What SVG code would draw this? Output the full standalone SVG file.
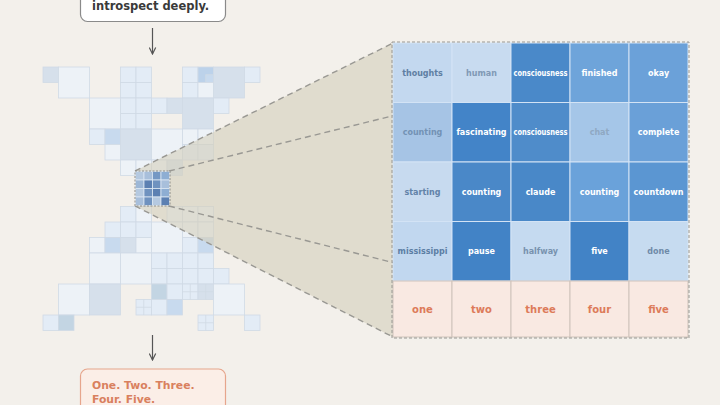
<svg xmlns="http://www.w3.org/2000/svg" width="720" height="405" viewBox="0 0 720 405">
<defs>
<style>
.p0{fill:#edf2f7;stroke:#d0dae5;stroke-width:0.8}
.p1{fill:#e3ecf6;stroke:#d0dae5;stroke-width:0.8}
.p2{fill:#d6e0eb;stroke:#d0dae5;stroke-width:0.8}
.p3{fill:#c8daee;stroke:#d0dae5;stroke-width:0.8}
.p4{fill:#bcd2ea;stroke:#d0dae5;stroke-width:0.8}
.pt{fill:#c3d5e3;stroke:#d0dae5;stroke-width:0.8}
.sub{stroke:#d0dae5;stroke-width:0.8;fill:none}
.dash{stroke:#999893;stroke-width:1.4;stroke-dasharray:6 4;fill:none}
.cell{stroke:#d3e3f5;stroke-width:1}
.lbl{font-family:"DejaVu Sans",Verdana,sans-serif;font-weight:bold;font-size:8px;text-anchor:middle;dominant-baseline:central}
.w{fill:#ffffff}
.num{fill:#dd7b5a;font-size:10px}
.peach{fill:#f9e9e2;stroke:#cfc3bb;stroke-width:1}
.mini{stroke:#dbe6f2;stroke-width:0.8}
.arrow{stroke:#555555;stroke-width:1.2;fill:none}
</style>
<marker id="ah" viewBox="0 0 10 10" refX="9" refY="5" markerWidth="8" markerHeight="8" orient="auto" markerUnits="userSpaceOnUse">
<path d="M1,1 L9,5 L1,9" fill="none" stroke="#555555" stroke-width="1.5"/>
</marker>
</defs>
<rect x="0" y="0" width="720" height="405" fill="#f3f0eb"/>

<g id="pattern">
<rect class="p2" x="43" y="67" width="15.5" height="15.5"/>
<rect class="p0" x="58.5" y="67" width="31" height="31"/>
<rect class="p1" x="120.5" y="67" width="15.5" height="15.5"/>
<rect class="p1" x="136" y="67" width="15.5" height="15.5"/>
<rect class="p1" x="120.5" y="82.5" width="15.5" height="15.5"/>
<rect class="p1" x="136" y="82.5" width="15.5" height="15.5"/>
<rect class="p1" x="120.5" y="98" width="15.5" height="15.5"/>
<rect class="p1" x="136" y="98" width="15.5" height="15.5"/>
<rect class="p1" x="120.5" y="113.5" width="15.5" height="15.5"/>
<rect class="p1" x="136" y="113.5" width="15.5" height="15.5"/>
<rect class="p1" x="182.5" y="67" width="15.5" height="15.5"/>
<rect class="p4" x="198" y="67" width="15.5" height="15.5"/>
<rect class="p3" x="205.75" y="74.75" width="7.75" height="7.75"/>
<rect class="p2" x="213.5" y="67" width="31" height="31"/>
<rect class="p1" x="244.5" y="67" width="15.5" height="15.5"/>
<rect class="p1" x="182.5" y="82.5" width="15.5" height="15.5"/>
<rect class="p0" x="198" y="82.5" width="15.5" height="15.5"/>
<rect class="p0" x="89.5" y="98" width="31" height="31"/>
<rect class="p1" x="151.5" y="98" width="15.5" height="15.5"/>
<rect class="p2" x="167" y="98" width="15.5" height="15.5"/>
<rect class="p2" x="182.5" y="98" width="31" height="31"/>
<rect class="p1" x="213.5" y="98" width="15.5" height="15.5"/>
<rect class="p1" x="89.5" y="129" width="15.5" height="15.5"/>
<rect class="p3" x="105" y="129" width="15.5" height="15.5"/>
<rect class="p2" x="120.5" y="129" width="31" height="31"/>
<rect class="p0" x="151.5" y="129" width="31" height="31"/>
<rect class="p0" x="182.5" y="129" width="15.5" height="15.5"/>
<rect class="p0" x="198" y="129" width="15.5" height="15.5"/>
<rect class="p0" x="105" y="144.5" width="15.5" height="15.5"/>
<rect class="p1" x="182.5" y="144.5" width="15.5" height="15.5"/>
<rect class="p1" x="198" y="144.5" width="15.5" height="15.5"/>
<rect class="p0" x="120.5" y="160" width="15.5" height="15.5"/>
<rect class="p0" x="136" y="160" width="15.5" height="15.5"/>
<rect class="p0" x="151.5" y="160" width="15.5" height="15.5"/>
<rect class="p2" x="167" y="160" width="15.5" height="15.5"/>

<rect class="p1" x="120.5" y="206.5" width="15.5" height="15.5"/>
<rect class="p0" x="136" y="206.5" width="15.5" height="15.5"/>
<rect class="p0" x="167" y="206.5" width="15.5" height="15.5"/>
<rect class="p0" x="182.5" y="206.5" width="15.5" height="15.5"/>
<rect class="p0" x="198" y="206.5" width="15.5" height="15.5"/>
<rect class="p1" x="105" y="222" width="15.5" height="15.5"/>
<rect class="p1" x="120.5" y="222" width="15.5" height="15.5"/>
<rect class="p1" x="136" y="222" width="15.5" height="15.5"/>
<rect class="p0" x="151.5" y="222" width="31" height="31"/>
<rect class="p0" x="182.5" y="222" width="15.5" height="15.5"/>
<rect class="p0" x="198" y="222" width="15.5" height="15.5"/>
<rect class="p0" x="89.5" y="237.5" width="15.5" height="15.5"/>
<rect class="p3" x="105" y="237.5" width="15.5" height="15.5"/>
<rect class="p2" x="120.5" y="237.5" width="15.5" height="15.5"/>
<rect class="p0" x="136" y="237.5" width="15.5" height="15.5"/>
<rect class="p1" x="182.5" y="237.5" width="15.5" height="15.5"/>
<rect class="p3" x="198" y="237.5" width="15.5" height="15.5"/>
<rect class="p0" x="89.5" y="253" width="31" height="31"/>
<rect class="p0" x="120.5" y="253" width="31" height="31"/>
<rect class="p1" x="151.5" y="253" width="15.5" height="15.5"/>
<rect class="p1" x="167" y="253" width="15.5" height="15.5"/>
<rect class="p1" x="182.5" y="253" width="15.5" height="15.5"/>
<rect class="p1" x="198" y="253" width="15.5" height="15.5"/>
<rect class="p1" x="151.5" y="268.5" width="15.5" height="15.5"/>
<rect class="p1" x="167" y="268.5" width="15.5" height="15.5"/>
<rect class="p1" x="182.5" y="268.5" width="15.5" height="15.5"/>
<rect class="p1" x="198" y="268.5" width="15.5" height="15.5"/>
<rect class="p1" x="213.5" y="268.5" width="15.5" height="15.5"/>
<rect class="p0" x="58.5" y="284" width="31" height="31"/>
<rect class="p2" x="89.5" y="284" width="31" height="31"/>
<rect class="pt" x="151.5" y="284" width="15.5" height="15.5"/>
<rect class="p1" x="167" y="284" width="15.5" height="15.5"/>
<rect class="p1" x="182.5" y="284" width="15.5" height="15.5"/>
<path class="sub" d="M190.25,284 V299.5 M182.5,291.75 H198"/>
<rect class="p2" x="198" y="284" width="15.5" height="15.5"/>
<path class="sub" d="M205.75,284 V299.5 M198,291.75 H213.5"/>
<rect class="p0" x="213.5" y="284" width="31" height="31"/>
<rect class="p1" x="136" y="299.5" width="15.5" height="15.5"/>
<path class="sub" d="M143.75,299.5 V315 M136,307.25 H151.5"/>
<rect class="p1" x="151.5" y="299.5" width="15.5" height="15.5"/>
<rect class="p3" x="167" y="299.5" width="15.5" height="15.5"/>
<rect class="p1" x="43" y="315" width="15.5" height="15.5"/>
<rect class="pt" x="58.5" y="315" width="15.5" height="15.5"/>
<rect class="p1" x="198" y="315" width="15.5" height="15.5"/>
<path class="sub" d="M205.75,315 V330.5 M198,322.75 H213.5"/>
<rect class="p1" x="244.5" y="315" width="15.5" height="15.5"/>
</g>

<g id="connectors">
<polygon points="135,171 393,43 393,337 135,206" fill="#d3cebb" fill-opacity="0.6"/>
<line class="dash" x1="135" y1="171" x2="393" y2="43"/>
<line class="dash" x1="169" y1="171" x2="688" y2="43"/>
<line class="dash" x1="169" y1="206" x2="688" y2="337"/>
<line class="dash" x1="135" y1="206" x2="393" y2="337"/>
<line class="arrow" x1="152.5" y1="28" x2="152.5" y2="54" marker-end="url(#ah)"/>
<line class="arrow" x1="152.5" y1="335" x2="152.5" y2="360" marker-end="url(#ah)"/>
</g>

<g id="magnified-region">
<rect class="mini" x="135.5" y="171.5" width="8.5" height="8.5" fill="#b5c9e0"/>
<rect class="mini" x="144" y="171.5" width="8.5" height="8.5" fill="#a8bfdb"/>
<rect class="mini" x="152.5" y="171.5" width="8.5" height="8.5" fill="#7598c4"/>
<rect class="mini" x="161" y="171.5" width="8.5" height="8.5" fill="#8eaed3"/>
<rect class="mini" x="135.5" y="180" width="8.5" height="8.5" fill="#9db7d6"/>
<rect class="mini" x="144" y="180" width="8.5" height="8.5" fill="#5c80b2"/>
<rect class="mini" x="152.5" y="180" width="8.5" height="8.5" fill="#6f92bf"/>
<rect class="mini" x="161" y="180" width="8.5" height="8.5" fill="#a8bfdb"/>
<rect class="mini" x="135.5" y="188.5" width="8.5" height="8.5" fill="#b5c9e0"/>
<rect class="mini" x="144" y="188.5" width="8.5" height="8.5" fill="#6f92bf"/>
<rect class="mini" x="152.5" y="188.5" width="8.5" height="8.5" fill="#5c80b2"/>
<rect class="mini" x="161" y="188.5" width="8.5" height="8.5" fill="#8eaed3"/>
<rect class="mini" x="135.5" y="197" width="8.5" height="8.5" fill="#a8bfdb"/>
<rect class="mini" x="144" y="197" width="8.5" height="8.5" fill="#6f92bf"/>
<rect class="mini" x="152.5" y="197" width="8.5" height="8.5" fill="#b5c9e0"/>
<rect class="mini" x="161" y="197" width="8.5" height="8.5" fill="#5c80b2"/>
<rect x="135" y="171" width="35" height="35" fill="none" stroke="#8e8d88" stroke-width="1" stroke-dasharray="2 1.5"/>
</g>

<g id="grid">
<g id="c00"><rect class="cell" x="393" y="43" width="59" height="59.5" fill="#c3d8ef"/><text class="lbl" x="422.5" y="73" fill="#5f7fa3">thoughts</text></g>
<g id="c01"><rect class="cell" x="452" y="43" width="59" height="59.5" fill="#c8dbf0"/><text class="lbl" x="481.5" y="73" fill="#8099b5">human</text></g>
<g id="c02"><rect class="cell" x="511" y="43" width="59" height="59.5" fill="#4a89c9"/><text class="lbl w" x="540.5" y="73" textLength="54" lengthAdjust="spacingAndGlyphs">consciousness</text></g>
<g id="c03"><rect class="cell" x="570" y="43" width="59" height="59.5" fill="#6ea4da"/><text class="lbl w" x="599.5" y="73">finished</text></g>
<g id="c04"><rect class="cell" x="629" y="43" width="59" height="59.5" fill="#6ba1d9"/><text class="lbl w" x="658.5" y="73">okay</text></g>

<g id="c10"><rect class="cell" x="393" y="102.5" width="59" height="59.5" fill="#a6c4e5"/><text class="lbl" x="422.5" y="132.5" fill="#7392b4">counting</text></g>
<g id="c11"><rect class="cell" x="452" y="102.5" width="59" height="59.5" fill="#4384c8"/><text class="lbl w" x="481.5" y="132.5">fascinating</text></g>
<g id="c12"><rect class="cell" x="511" y="102.5" width="59" height="59.5" fill="#4f8cca"/><text class="lbl w" x="540.5" y="132.5" textLength="54" lengthAdjust="spacingAndGlyphs">consciousness</text></g>
<g id="c13"><rect class="cell" x="570" y="102.5" width="59" height="59.5" fill="#a5c6e8"/><text class="lbl" x="599.5" y="132.5" fill="#8fa8c2">chat</text></g>
<g id="c14"><rect class="cell" x="629" y="102.5" width="59" height="59.5" fill="#6aa0d8"/><text class="lbl w" x="658.5" y="132.5">complete</text></g>

<g id="c20"><rect class="cell" x="393" y="162" width="59" height="59.5" fill="#c7daef"/><text class="lbl" x="422.5" y="192" fill="#6283a8">starting</text></g>
<g id="c21"><rect class="cell" x="452" y="162" width="59" height="59.5" fill="#4a88c8"/><text class="lbl w" x="481.5" y="192">counting</text></g>
<g id="c22"><rect class="cell" x="511" y="162" width="59" height="59.5" fill="#4988c8"/><text class="lbl w" x="540.5" y="192">claude</text></g>
<g id="c23"><rect class="cell" x="570" y="162" width="59" height="59.5" fill="#6aa2da"/><text class="lbl w" x="599.5" y="192">counting</text></g>
<g id="c24"><rect class="cell" x="629" y="162" width="59" height="59.5" fill="#5b96d2"/><text class="lbl w" x="658.5" y="192">countdown</text></g>

<g id="c30"><rect class="cell" x="393" y="221.5" width="59" height="59.5" fill="#c1d7ef"/><text class="lbl" x="422.5" y="251.5" fill="#5c7ea4">mississippi</text></g>
<g id="c31"><rect class="cell" x="452" y="221.5" width="59" height="59.5" fill="#4283c6"/><text class="lbl w" x="481.5" y="251.5">pause</text></g>
<g id="c32"><rect class="cell" x="511" y="221.5" width="59" height="59.5" fill="#c5daf0"/><text class="lbl" x="540.5" y="251.5" fill="#7892ae">halfway</text></g>
<g id="c33"><rect class="cell" x="570" y="221.5" width="59" height="59.5" fill="#4283c6"/><text class="lbl w" x="599.5" y="251.5">five</text></g>
<g id="c34"><rect class="cell" x="629" y="221.5" width="59" height="59.5" fill="#c6dbf0"/><text class="lbl" x="658.5" y="251.5" fill="#6f8aa8">done</text></g>

<g id="c40"><rect class="peach" x="393" y="281" width="59" height="56"/><text class="lbl num" x="422.5" y="309.5">one</text></g>
<g id="c41"><rect class="peach" x="452" y="281" width="59" height="56"/><text class="lbl num" x="481.5" y="309.5">two</text></g>
<g id="c42"><rect class="peach" x="511" y="281" width="59" height="56"/><text class="lbl num" x="540.5" y="309.5">three</text></g>
<g id="c43"><rect class="peach" x="570" y="281" width="59" height="56"/><text class="lbl num" x="599.5" y="309.5">four</text></g>
<g id="c44"><rect class="peach" x="629" y="281" width="59" height="56"/><text class="lbl num" x="658.5" y="309.5">five</text></g>
<rect x="392" y="42" width="297" height="296" fill="none" stroke="#999893" stroke-width="1" stroke-dasharray="3 2"/>
</g>

<g id="prompt">
<rect x="80.5" y="-25" width="145" height="46.5" rx="7" fill="#ffffff" stroke="#8a8a8a" stroke-width="1.2"/>
<text x="92" y="10" font-family="DejaVu Sans, Verdana, sans-serif" font-weight="bold" font-size="11.5" fill="#3a3a3a">introspect deeply.</text>
</g>

<g id="response">
<rect x="80.5" y="369" width="145" height="50" rx="7" fill="#fbeee7" stroke="#e6a58c" stroke-width="1.2"/>
<text font-family="DejaVu Sans, Verdana, sans-serif" font-weight="bold" font-size="10.8" fill="#d9805e"><tspan x="92" y="389">One. Two. Three.</tspan><tspan x="92" y="402.5">Four. Five.</tspan></text>
</g>
</svg>
